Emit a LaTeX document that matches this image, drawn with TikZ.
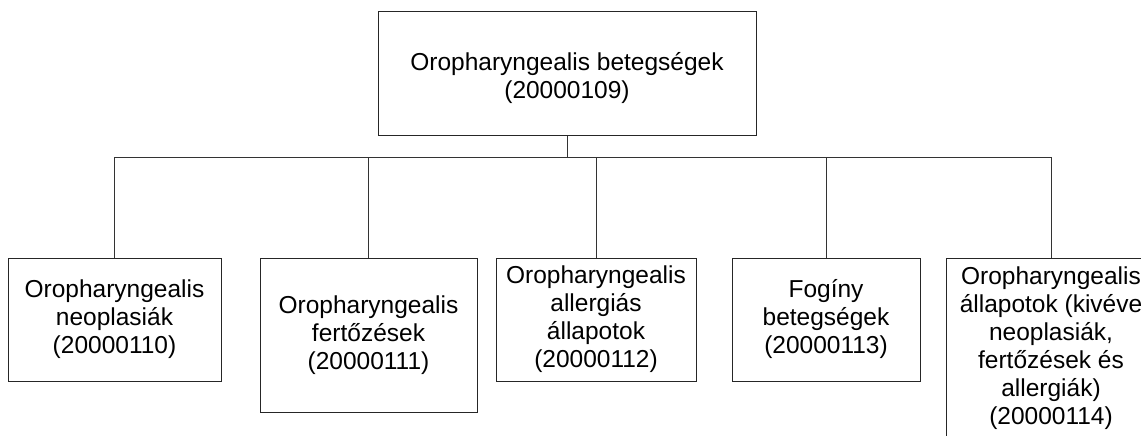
\documentclass[tikz,border=0pt]{standalone}
\usepackage{fontspec}
\setmainfont{Liberation Sans}
\begin{document}
\begin{tikzpicture}[x=1pt,y=-1pt,
  box/.style={draw=black!85,line width=1pt,inner sep=0pt,align=center,
    font=\fontsize{24.5}{28}\selectfont,anchor=center},
  link/.style={draw=black!80,line width=1pt}]
\useasboundingbox (0,0) rectangle (1141,436);
\clip (0,0) rectangle (1141,436);
\fill[white] (0,0) rectangle (1141,436);

% root box, with its two lines set a little below the middle
\node[box,minimum width=378pt,minimum height=123pt] (top) at (567,73.5) {};
\node[align=center,inner sep=0pt,font=\fontsize{24.5}{28}\selectfont]
  (toptext) at (567,78) {Oropharyngealis betegségek\\(20000109)};

\node[box,minimum width=213pt,minimum height=123pt] (c1) at (114.5,319.5)
  {Oropharyngealis\\neoplasiák\\(20000110)};
\node[box,minimum width=217pt,minimum height=154pt] (c2) at (368.5,335)
  {Oropharyngealis\\fertőzések\\(20000111)};
\node[box,minimum width=200pt,minimum height=123pt] (c3) at (596,319.5)
  {Oropharyngealis\\allergiás\\állapotok\\(20000112)};
\node[box,minimum width=188pt,minimum height=123pt] (c4) at (826,319.5)
  {Fogíny\\betegségek\\(20000113)};
\node[box,minimum width=210pt,minimum height=180pt] (c5) at (1051,348)
  {Oropharyngealis\\állapotok (kivéve\\neoplasiák,\\fertőzések és\\allergiák)\\(20000114)};

\coordinate (bus) at (567,157);
\foreach \c in {c1,c2,c3,c4,c5}
  \draw[link] (top.south) -- (bus) -| (\c.north);
\end{tikzpicture}
\end{document}
